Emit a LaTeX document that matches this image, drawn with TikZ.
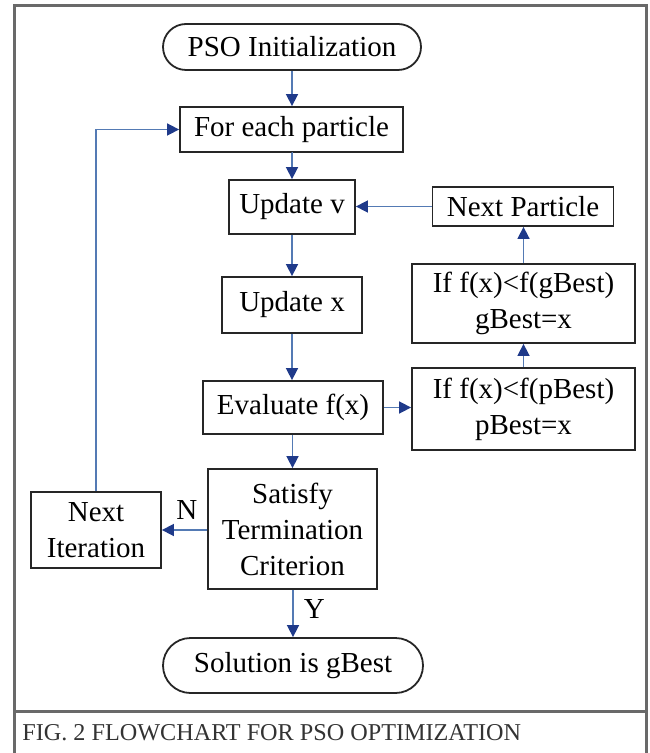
\documentclass[tikz,border=0pt]{standalone}
\usepackage{fontspec}
\setmainfont{Liberation Serif}
\usepackage{tikz}
\usetikzlibrary{arrows.meta,shapes.misc}
\definecolor{flowline}{RGB}{84,122,180}
\definecolor{flowtip}{RGB}{31,58,138}
\definecolor{framegray}{RGB}{105,105,105}

\begin{document}
\begin{tikzpicture}[x=0.5pt, y=-0.5pt,
    every node/.style={font=\fontsize{14.5}{18}\selectfont, align=center, inner sep=0pt},
    box/.style={draw=black!85, line width=0.9pt, rectangle},
    term/.style={draw=black!85, line width=0.9pt, rounded rectangle},
    flow/.style={draw=flowline, line width=0.8pt, -{Triangle[length=6pt, width=6pt, color=flowtip]}}]
    \useasboundingbox (0,0) rectangle (649,753);
    % frame and caption
    \draw[framegray, line width=1.5pt] (14,753) -- (14,6) -- (646,6) -- (646,753);
    \draw[framegray, line width=1.5pt] (14,711) -- (646,711);
    \node[anchor=west, font=\fontsize{12.1}{14}\selectfont, text=black!80] (caption) at (22,733) {FIG. 2 FLOWCHART FOR PSO OPTIMIZATION};
    % main column
    \node[term, minimum width=129pt, minimum height=23pt] (init) at (292,47) {PSO Initialization};
    \node[box, minimum width=111.5pt, minimum height=22.5pt] (each) at (291.5,129.5) {For each particle};
    \node[box, minimum width=63pt, minimum height=27pt] (updv) at (292,207) {Update v};
    \node[box, minimum width=70pt, minimum height=28pt] (updx) at (292,305) {Update x};
    \node[box, minimum width=90pt, minimum height=26.5pt] (evalf) at (293,407.5) {Evaluate f(x)};
    \node[box, minimum width=84.5pt, minimum height=60pt] (crit) at (292.5,529) {Satisfy\\Termination\\Criterion};
    \node[term, minimum width=130pt, minimum height=27.5pt] (sol) at (293,665.5) {Solution is gBest};
    % side boxes
    \node[box, minimum width=90.5pt, minimum height=19.5pt] (nextp) at (523,206.5) {Next Particle};
    \node[box, minimum width=111.5pt, minimum height=39.5pt] (gbest) at (523.5,303.5) {If f(x)<f(gBest)\\gBest=x};
    \node[box, minimum width=111.5pt, minimum height=41pt] (pbest) at (523.5,409) {If f(x)<f(pBest)\\pBest=x};
    \node[box, minimum width=65pt, minimum height=38pt] (nextit) at (96,530) {Next\\Iteration};
    % connectors
    \draw[flow] (init.south) -- (init.south |- each.north);
    \draw[flow] (each.south) -- (each.south -| updv.north) -- (updv.north);
    \draw[flow] (updv.south) -- (updx.north);
    \draw[flow] (updx.south) -- (updx.south |- evalf.north);
    \draw[flow] (evalf.south -| crit.north) -- (crit.north);
    \draw[flow] (evalf.east) -- (evalf.east -| pbest.west);
    \draw[flow] (pbest.north) -- (gbest.south);
    \draw[flow] (gbest.north) -- (gbest.north |- nextp.south);
    \draw[flow] (nextp.west) -- (nextp.west -| updv.east);
    \draw[flow] (crit.west |- nextit.east) -- (nextit.east) node[pos=0.45, above=5pt] (nlabel) {N};
    \draw[flow] (crit.south -| sol.north) -- (sol.north) node[pos=0.4, right=5pt] (ylabel) {Y};
    \draw[flow] (nextit.north) |- (each.west);
\end{tikzpicture}
\end{document}
